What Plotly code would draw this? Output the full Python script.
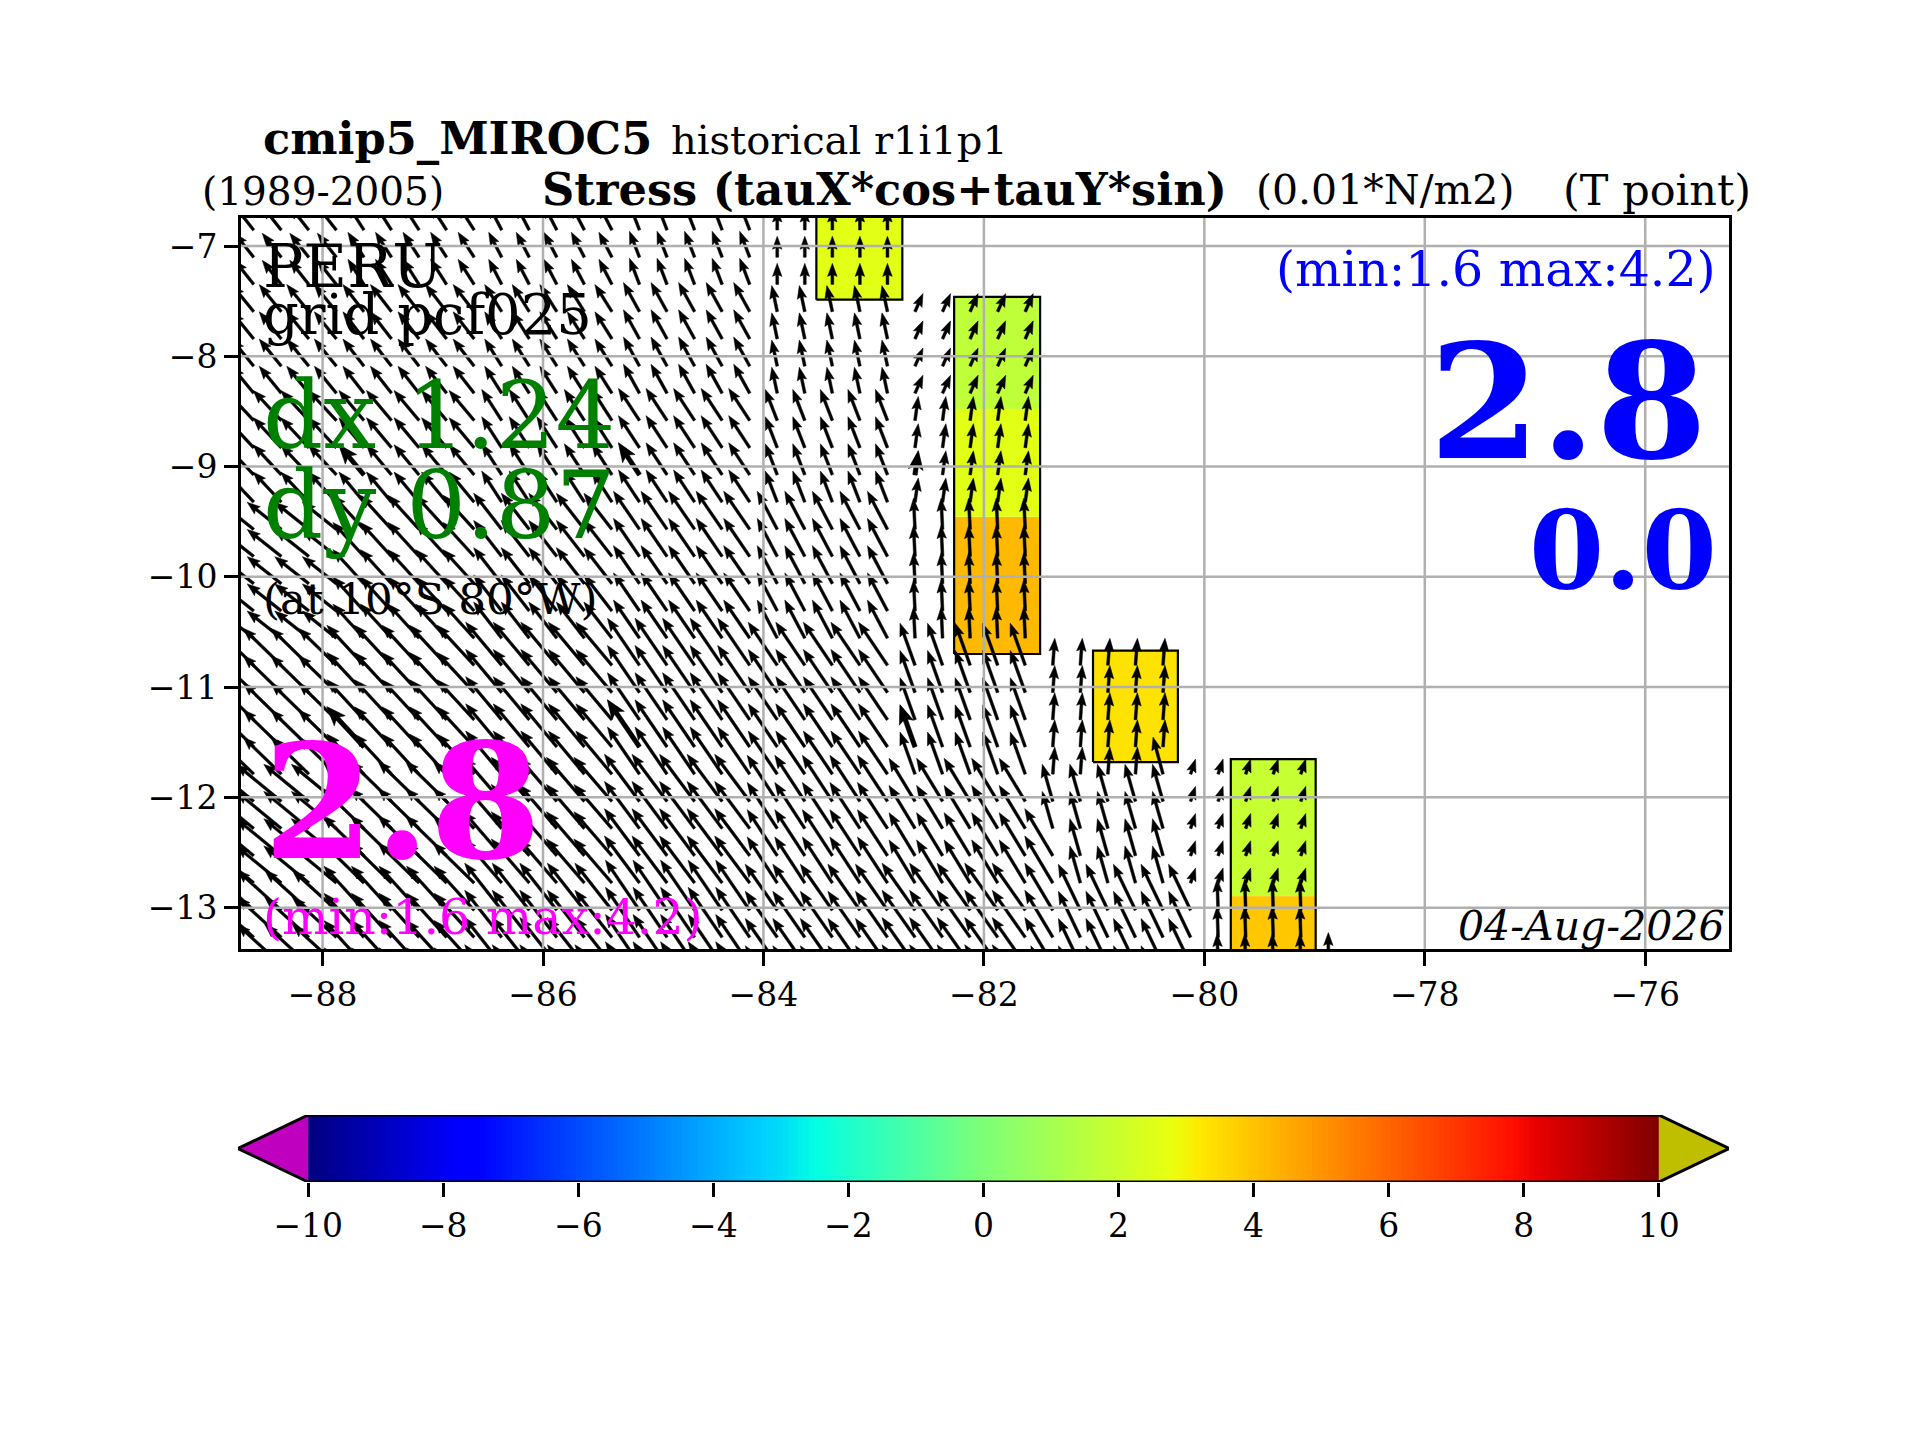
import numpy as np
import plotly.graph_objects as go

WIDTH, HEIGHT = 1920, 1440
FONT = "DejaVu Serif"

# arrow tails
LONS = [-88.625, -88.375, -88.125, -87.875,
        -87.625, -87.375, -87.125, -86.875, -86.625,
        -86.375, -86.125, -85.875, -85.625, -85.375,
        -85.125, -84.875, -84.625, -84.375, -84.125,
        -83.875, -83.625, -83.375, -83.125, -82.875,
        -82.625, -82.375, -82.125, -81.875, -81.625,
        -81.375, -81.125, -80.875, -80.625, -80.375,
        -80.125, -79.875, -79.625, -79.375, -79.125,
        -78.875]
LON_GROUP = [0, 0, 0, 0, 1, 1, 1, 1, 1, 2, 2, 2, 2, 2, 3, 3, 3, 3, 3,
             4, 4, 4, 4, 4, 5, 5, 5, 5, 5, 6, 6, 6, 6, 6, 7, 7, 7, 7, 7, 8]
LON_FIRST_ROW = [0] * 24 + [3] * 5 + [16] * 5 + [20] * 5 + [27]

LATS = [-6.855, -7.102, -7.348, -7.595, -7.842, -8.089, -8.335, -8.582,
        -8.829, -9.075, -9.322, -9.569, -9.815, -10.062, -10.309, -10.556,
        -10.802, -11.049, -11.296, -11.542, -11.789, -12.036, -12.282,
        -12.529, -12.776, -13.023, -13.269, -13.516, -13.763]
LAT_BAND = [0, 0, 0, 1, 1, 1, 1, 2, 2, 2, 2, 3, 3, 3, 3, 3,
            4, 4, 4, 4, 4, 5, 5, 5, 5, 6, 6, 6, 6]

# stress components, one row per latitude band, one column per longitude group
U_BANDS = [
    [-1.9, -1.6, -1.3, -1.0, 0.0, 0.0, 0.0, 0.0, 0.0],
    [-2.2, -2.1, -1.7, -1.6, -0.55, 0.8, 0.0, 0.0, 0.0],
    [-2.8, -2.5, -2.0, -2.1, -1.2, 0.33, 0.0, 0.0, 0.0],
    [-3.4, -3.1, -2.8, -2.6, -2.0, -0.15, 0.0, 0.0, 0.0],
    [-3.8, -3.7, -3.6, -3.2, -2.9, -1.5, 0.2, 0.5, 0.0],
    [-4.5, -4.1, -3.8, -3.5, -3.0, -2.6, -1.05, 0.5, 0.0],
    [-4.4, -4.0, -3.7, -3.4, -3.2, -3.3, -2.2, -0.1, 0.0],
]
V_BANDS = [
    [2.4, 2.5, 2.5, 2.6, 2.1, 0.0, 0.0, 0.0, 0.0],
    [2.7, 2.7, 2.7, 2.9, 2.6, 1.8, 0.0, 0.0, 0.0],
    [3.0, 3.0, 3.1, 3.2, 3.1, 2.4, 0.0, 0.0, 0.0],
    [2.7, 3.4, 3.6, 3.8, 3.8, 3.1, 0.0, 0.0, 0.0],
    [3.7, 4.0, 4.3, 4.7, 4.3, 4.2, 2.7, 1.5, 0.0],
    [3.7, 4.0, 4.4, 4.7, 4.6, 4.3, 3.7, 1.5, 0.0],
    [4.0, 4.4, 4.7, 5.0, 4.6, 4.7, 4.6, 3.1, 3.2],
]

# grid points that do not follow their block
ODD_LON = [-81.375, -81.375, -81.375, -81.375, -81.375, -80.375,
           -80.125, -80.125, -80.125]
ODD_ROW = [23, 24, 25, 26, 27, 20, 25, 26, 27]
ODD_U = [-2.8, -2.8, -2.8, -2.8, -2.8, -1.0, -2.2, -2.2, -2.2]
ODD_V = [4.7, 4.7, 4.7, 4.7, 4.7, 3.7, 4.6, 4.6, 4.6]

# arrows drawn heavier in the reference
BOLD_LON = [-87.625, -85.125, -82.625, -87.625, -85.125, -82.625]
BOLD_ROW = [9, 9, 9, 19, 19, 19]

# coloured cells
CELL_X0 = [-83.52, -82.27, -82.27, -82.27, -81.01, -79.76, -79.76]
CELL_X1 = [-82.74, -81.49, -81.49, -81.49, -80.24, -78.99, -78.99]
CELL_Y0 = [-7.487, -8.476, -9.458, -10.70, -11.68, -12.896, -13.5]
CELL_Y1 = [-6.5, -7.462, -8.476, -9.458, -10.67, -11.653, -12.896]
CELL_VAL = [2.6, 1.65, 2.6, 4.2, 3.3, 1.85, 3.9]

# outlines of the three cell stacks plus the top one
BOX_X0 = [-83.52, -82.27, -81.01, -79.76]
BOX_X1 = [-82.74, -81.49, -80.24, -78.99]
BOX_Y0 = [-7.487, -10.70, -11.68, -13.5]
BOX_Y1 = [-6.5, -7.462, -10.67, -11.653]

LON_TICKS = [-88, -86, -84, -82, -80, -78, -76]
LAT_TICKS = [-13, -12, -11, -10, -9, -8, -7]
CBAR_TICKS = [-10, -8, -6, -4, -2, 0, 2, 4, 6, 8, 10]

JET = [
    [0.0, "#00007f"], [0.11, "#0000ff"], [0.125, "#0000ff"], [0.34, "#00d4ff"],
    [0.35, "#00dcf6"], [0.375, "#03ffe3"], [0.5, "#7fff77"], [0.64, "#eaff0e"],
    [0.66, "#ffe800"], [0.89, "#ff1000"], [0.91, "#e80000"], [1.0, "#7f0000"],
]

# axes box in pixels of the 1920x1440 page
AX_LEFT, AX_RIGHT, AX_TOP, AX_BOTTOM = 241, 1729, 218, 949
XRANGE = [-88.74, -75.24]
YRANGE = [-13.375, -6.746]
CB_LEFT, CB_RIGHT, CB_TOP, CB_BOTTOM = 238, 1729, 1115, 1182
CB_RANGE = [-11.04, 11.04]

PX_PER_DEG = 110.2
ARROW_SCALE = 10.0 / PX_PER_DEG  # degrees per stress unit


def arrow_outline(x, y, u, v, shaft=2.8, head=9.5, head_len=13.0, neck_len=11.5):
    """Closed outline of one quiver arrow, sizes in pixels."""
    dx, dy = u * ARROW_SCALE, v * ARROW_SCALE
    length = np.hypot(dx, dy)
    ax, ay = dx / length, dy / length
    nx, ny = -ay, ax
    shaft, head, head_len, neck_len = [
        s / PX_PER_DEG for s in (shaft, head, head_len, neck_len)
    ]
    if length < head_len * 1.15:
        k = length / (head_len * 1.15)
        shaft, head, head_len, neck_len = shaft * k, head * k, head_len * k, neck_len * k
    points = [
        (0, shaft / 2),
        (length - neck_len, shaft / 2),
        (length - head_len, head / 2),
        (length, 0),
        (length - head_len, -head / 2),
        (length - neck_len, -shaft / 2),
        (0, -shaft / 2),
        (0, shaft / 2),
    ]
    xs = [x + a * ax + b * nx for a, b in points] + [None]
    ys = [y + a * ay + b * ny for a, b in points] + [None]
    return xs, ys


def block_values(col, row):
    for lon, r, u, v in zip(ODD_LON, ODD_ROW, ODD_U, ODD_V):
        if lon == LONS[col] and r == row:
            return u, v
    return U_BANDS[LAT_BAND[row]][LON_GROUP[col]], V_BANDS[LAT_BAND[row]][LON_GROUP[col]]


def label(fig, text, x, baseline, size, color="black", anchor="left"):
    """Text placed by its left or right end and its baseline, in page pixels."""
    fig.add_annotation(
        text=text, xref="paper", yref="paper", showarrow=False,
        x=x / WIDTH, y=1 - (baseline + 0.28 * size) / HEIGHT,
        xanchor=anchor, yanchor="bottom", borderpad=0,
        font=dict(family=FONT, size=size, color=color),
    )


fig = go.Figure()

# cells
for x0, x1, y0, y1, val in zip(CELL_X0, CELL_X1, CELL_Y0, CELL_Y1, CELL_VAL):
    fig.add_trace(go.Heatmap(
        x=[x0, x1], y=[y0, y1], z=[[val]], zmin=-10, zmax=10,
        colorscale=JET, showscale=False, hoverinfo="skip",
    ))

box_x, box_y = [], []
for x0, x1, y0, y1 in zip(BOX_X0, BOX_X1, BOX_Y0, BOX_Y1):
    box_x += [x0, x1, x1, x0, x0, None]
    box_y += [y0, y0, y1, y1, y0, None]
fig.add_trace(go.Scatter(x=box_x, y=box_y, mode="lines",
                         line=dict(color="black", width=2.2), hoverinfo="skip"))

# quiver
quiver_x, quiver_y = [], []
for col, lon in enumerate(LONS):
    for row, lat in enumerate(LATS):
        if row < LON_FIRST_ROW[col]:
            continue
        u, v = block_values(col, row)
        xs, ys = arrow_outline(lon, lat, u, v)
        quiver_x += xs
        quiver_y += ys
for lon, row in zip(BOLD_LON, BOLD_ROW):
    u, v = block_values(LONS.index(lon), row)
    xs, ys = arrow_outline(lon, LATS[row], u, v, shaft=4.5, head=15, head_len=19, neck_len=16)
    quiver_x += xs
    quiver_y += ys
fig.add_trace(go.Scatter(
    x=quiver_x, y=quiver_y, mode="lines", fill="toself", fillcolor="black",
    line=dict(color="black", width=0.5), hoverinfo="skip",
))

# grid sits on top of the arrows in the reference
grid_x, grid_y = [], []
for lon in LON_TICKS:
    grid_x += [lon, lon, None]
    grid_y += [YRANGE[0], YRANGE[1], None]
for lat in LAT_TICKS:
    grid_x += [XRANGE[0], XRANGE[1], None]
    grid_y += [lat, lat, None]
fig.add_trace(go.Scatter(x=grid_x, y=grid_y, mode="lines",
                         line=dict(color="#b0b0b0", width=2.5), hoverinfo="skip"))

# colour bar
levels = np.linspace(-10, 10, 256)
fig.add_trace(go.Heatmap(
    x=levels, y=[0, 1], z=[levels, levels], zmin=-10, zmax=10, colorscale=JET,
    showscale=False, hoverinfo="skip", xaxis="x2", yaxis="y2",
))
fig.add_trace(go.Scatter(
    x=[-10, CB_RANGE[0], -10, -10], y=[0, 0.5, 1, 0], mode="lines", fill="toself",
    fillcolor="#bf00bf", line=dict(color="black", width=0), xaxis="x2", yaxis="y2",
    hoverinfo="skip",
))
fig.add_trace(go.Scatter(
    x=[10, CB_RANGE[1], 10, 10], y=[0, 0.5, 1, 0], mode="lines", fill="toself",
    fillcolor="#bfbf00", line=dict(color="black", width=0), xaxis="x2", yaxis="y2",
    hoverinfo="skip",
))
fig.add_trace(go.Scatter(
    x=[-10, CB_RANGE[0], -10, 10, CB_RANGE[1], 10, -10],
    y=[0, 0.5, 1, 1, 0.5, 0, 0], mode="lines", cliponaxis=False,
    line=dict(color="black", width=3), xaxis="x2", yaxis="y2", hoverinfo="skip",
))

tick_font = dict(family=FONT, size=33, color="black")
fig.update_layout(
    width=WIDTH, height=HEIGHT, margin=dict(l=0, r=0, t=0, b=0),
    paper_bgcolor="white", plot_bgcolor="white", showlegend=False,
    xaxis=dict(
        domain=[AX_LEFT / WIDTH, AX_RIGHT / WIDTH], range=XRANGE, tickvals=LON_TICKS,
        showgrid=False, zeroline=False, showline=True, mirror=True, linecolor="black",
        linewidth=3, ticks="outside", ticklen=14, tickwidth=3, tickcolor="black",
        tickfont=tick_font, anchor="y",
    ),
    yaxis=dict(
        domain=[1 - AX_BOTTOM / HEIGHT, 1 - AX_TOP / HEIGHT], range=YRANGE,
        tickvals=LAT_TICKS, showgrid=False, zeroline=False, showline=True, mirror=True,
        linecolor="black", linewidth=3, ticks="outside", ticklen=14, tickwidth=3,
        tickcolor="black", tickfont=tick_font, anchor="x",
    ),
    xaxis2=dict(
        domain=[CB_LEFT / WIDTH, CB_RIGHT / WIDTH], range=CB_RANGE, tickvals=CBAR_TICKS,
        showgrid=False, zeroline=False, showline=False, ticks="outside", ticklen=14,
        tickwidth=3, tickcolor="black", tickfont=tick_font, anchor="y2",
    ),
    yaxis2=dict(
        domain=[1 - CB_BOTTOM / HEIGHT, 1 - CB_TOP / HEIGHT], range=[0, 1],
        showgrid=False, zeroline=False, showticklabels=False, ticks="", anchor="x2",
    ),
)

# titles
label(fig, "<b>cmip5_MIROC5</b>", 262, 153, 44.7)
label(fig, "historical r1i1p1", 670, 153, 40)
label(fig, "(1989-2005)", 201, 204, 39)
label(fig, "<b>Stress (tauX*cos+tauY*sin)</b>", 541, 204, 44.7)
label(fig, "(0.01*N/m2)", 1255, 204, 41)
label(fig, "(T point)", 1562, 204, 43)

# inside the axes
label(fig, "PERU", 262, 285, 60)
label(fig, "grid pcf025", 262, 332, 56)
label(fig, "dx 1.24", 262, 445, 94, "#008000")
label(fig, "dy 0.87", 262, 535, 94, "#008000")
label(fig, "(at 10°S 80°W)", 262, 613, 43.6)
label(fig, "<b>2.8</b>", 262, 852, 160, "#ff00ff")
label(fig, "(min:1.6 max:4.2)", 262, 933, 49, "#ff00ff")
label(fig, "(min:1.6 max:4.2)", 1717, 285, 49, "#0000ff", "right")
label(fig, "<b>2.8</b>", 1708, 452, 160, "#0000ff", "right")
label(fig, "<b>0.0</b>", 1718, 584, 108, "#0000ff", "right")
label(fig, "<i>04-Aug-2026</i>", 1725, 940, 41, "black", "right")

fig.write_html("out.html", config={"displayModeBar": False},
               post_script="document.body.style.margin='0';")
